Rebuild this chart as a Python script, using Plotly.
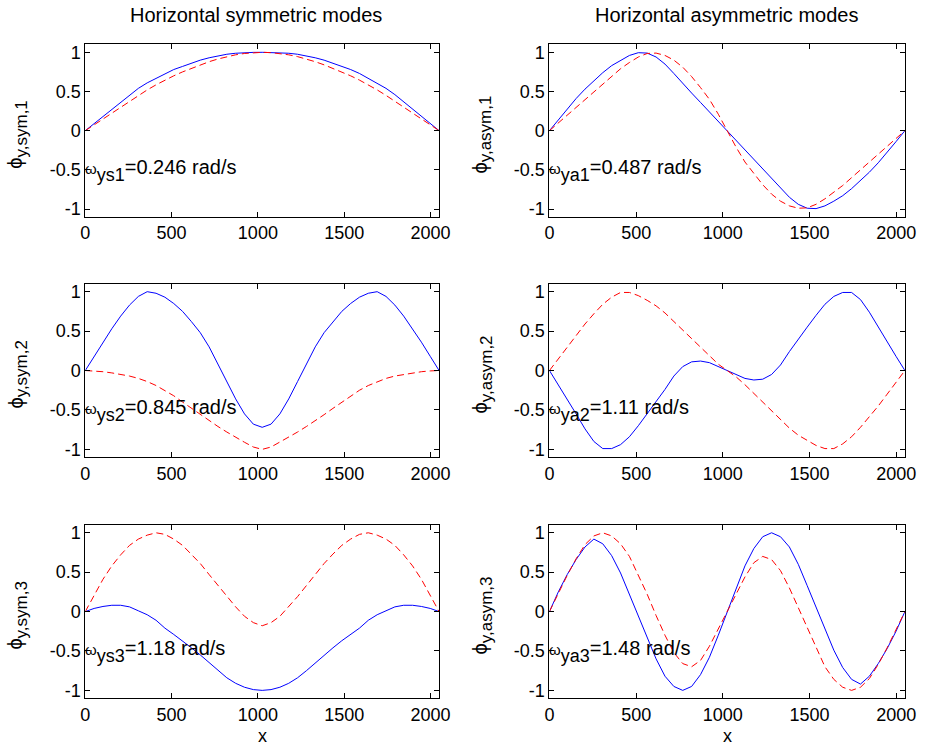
import plotly.graph_objects as go

# ---------------- data ----------------
X = [0, 51.25, 102.5, 153.75, 205, 256.25, 307.5, 358.75, 410, 461.25, 512.5,
     563.75, 615, 666.25, 717.5, 768.75, 820, 871.25, 922.5, 973.75, 1025,
     1076.25, 1127.5, 1178.75, 1230, 1281.25, 1332.5, 1383.75, 1435, 1486.25, 1537.5,
     1588.75, 1640, 1691.25, 1742.5, 1793.75, 1845, 1896.25, 1947.5, 1998.75, 2050]

sym1_blue = [0, 0.09, 0.18, 0.28, 0.37, 0.46, 0.54, 0.61, 0.67, 0.73, 0.78, 0.82, 0.86, 0.90, 0.93, 0.955, 0.975, 0.988, 0.996, 0.999, 1.0,
             0.999, 0.996, 0.988, 0.975, 0.955, 0.93, 0.90, 0.86, 0.82, 0.78, 0.73, 0.67, 0.61, 0.54, 0.46, 0.37, 0.28, 0.18, 0.09, 0]
sym1_red = [0, 0.075, 0.15, 0.225, 0.30, 0.375, 0.45, 0.52, 0.585, 0.645, 0.70, 0.75, 0.795, 0.84, 0.88, 0.915, 0.945, 0.968, 0.985, 0.996, 1.0,
            0.996, 0.985, 0.968, 0.945, 0.915, 0.88, 0.84, 0.795, 0.75, 0.70, 0.645, 0.585, 0.52, 0.45, 0.375, 0.30, 0.225, 0.15, 0.075, 0]

asym1_blue = [0, 0.14, 0.28, 0.41, 0.53, 0.64, 0.74, 0.83, 0.90, 0.96, 0.995, 0.99, 0.94, 0.85, 0.73, 0.60, 0.48, 0.36, 0.24, 0.12, 0,
              -0.12, -0.24, -0.36, -0.48, -0.60, -0.73, -0.85, -0.94, -0.99, -0.995, -0.96, -0.90, -0.83, -0.74, -0.64, -0.53, -0.41, -0.28, -0.14, 0]
asym1_red = [0, 0.10, 0.20, 0.30, 0.40, 0.50, 0.60, 0.70, 0.79, 0.87, 0.94, 0.985, 0.99, 0.96, 0.90, 0.81, 0.69, 0.55, 0.40, 0.21, 0,
             -0.21, -0.40, -0.55, -0.69, -0.81, -0.90, -0.96, -0.99, -0.985, -0.94, -0.87, -0.79, -0.70, -0.60, -0.50, -0.40, -0.30, -0.20, -0.10, 0]

sym2_blue = [0, 0.18, 0.36, 0.53, 0.69, 0.83, 0.94, 1.0, 0.98, 0.93, 0.85, 0.75, 0.62, 0.48, 0.30, 0.08, -0.14, -0.36, -0.55, -0.68, -0.72,
             -0.68, -0.55, -0.36, -0.14, 0.08, 0.30, 0.48, 0.62, 0.75, 0.85, 0.93, 0.98, 1.0, 0.94, 0.83, 0.69, 0.53, 0.36, 0.18, 0]
sym2_red = [0, -0.005, -0.015, -0.03, -0.05, -0.07, -0.10, -0.14, -0.19, -0.25, -0.32, -0.40, -0.48, -0.56, -0.64, -0.71, -0.78, -0.85, -0.91, -0.97, -1.0,
            -0.97, -0.91, -0.85, -0.78, -0.71, -0.64, -0.56, -0.48, -0.40, -0.32, -0.25, -0.19, -0.14, -0.10, -0.07, -0.05, -0.03, -0.015, -0.005, 0]

asym2_blue = [0, -0.18, -0.37, -0.55, -0.74, -0.90, -0.99, -0.99, -0.94, -0.84, -0.70, -0.55, -0.40, -0.24, -0.07, 0.05, 0.11, 0.12, 0.10, 0.05, 0,
              -0.05, -0.10, -0.12, -0.11, -0.05, 0.07, 0.24, 0.40, 0.55, 0.70, 0.84, 0.94, 0.99, 0.99, 0.90, 0.74, 0.55, 0.37, 0.18, 0]
asym2_red = [0, 0.15, 0.30, 0.45, 0.59, 0.72, 0.84, 0.93, 0.99, 0.99, 0.95, 0.89, 0.82, 0.73, 0.62, 0.51, 0.40, 0.29, 0.18, 0.08, 0,
             -0.08, -0.18, -0.29, -0.40, -0.51, -0.62, -0.73, -0.82, -0.89, -0.95, -0.99, -0.99, -0.93, -0.84, -0.72, -0.59, -0.45, -0.30, -0.15, 0]

sym3_blue = [0, 0.04, 0.065, 0.08, 0.08, 0.06, 0.01, -0.04, -0.11, -0.21, -0.29, -0.37, -0.46, -0.55, -0.65, -0.75, -0.84, -0.91, -0.96, -0.99, -1.0,
             -0.99, -0.96, -0.91, -0.84, -0.75, -0.65, -0.55, -0.46, -0.37, -0.29, -0.21, -0.11, -0.04, 0.01, 0.06, 0.08, 0.08, 0.065, 0.04, 0]
sym3_red = [0, 0.21, 0.41, 0.58, 0.72, 0.84, 0.92, 0.97, 1.0, 0.98, 0.92, 0.84, 0.73, 0.61, 0.47, 0.33, 0.19, 0.06, -0.06, -0.14, -0.18,
            -0.14, -0.06, 0.06, 0.19, 0.33, 0.47, 0.61, 0.73, 0.84, 0.92, 0.98, 1.0, 0.97, 0.92, 0.84, 0.72, 0.58, 0.41, 0.21, 0]

asym3_blue = [0, 0.25, 0.47, 0.66, 0.82, 0.92, 0.86, 0.71, 0.49, 0.22, -0.05, -0.33, -0.60, -0.82, -0.95, -1.0, -0.95, -0.80, -0.58, -0.30, 0,
              0.30, 0.58, 0.80, 0.95, 1.0, 0.95, 0.82, 0.60, 0.33, 0.05, -0.22, -0.49, -0.71, -0.86, -0.92, -0.82, -0.66, -0.47, -0.25, 0]
asym3_red = [0, 0.24, 0.46, 0.67, 0.85, 0.96, 1.0, 0.96, 0.86, 0.70, 0.46, 0.22, -0.05, -0.30, -0.52, -0.66, -0.70, -0.62, -0.44, -0.22, 0,
             0.22, 0.44, 0.62, 0.70, 0.66, 0.52, 0.30, 0.05, -0.22, -0.46, -0.70, -0.86, -0.96, -1.0, -0.96, -0.85, -0.67, -0.46, -0.24, 0]

panel_blue = [sym1_blue, asym1_blue, sym2_blue, asym2_blue, sym3_blue, asym3_blue]
panel_red = [sym1_red, asym1_red, sym2_red, asym2_red, sym3_red, asym3_red]
ylabel_main = "ϕ"
ylabel_subs = ["y,sym,1", "y,asym,1", "y,sym,2", "y,asym,2", "y,sym,3", "y,asym,3"]
omega_subs = ["ys1", "ya1", "ys2", "ya2", "ys3", "ya3"]
omega_values = ["0.246", "0.487", "0.845", "1.11", "1.18", "1.48"]
col_titles = ["Horizontal symmetric modes", "Horizontal asymmetric modes"]
x_ticks = [0, 500, 1000, 1500, 2000]
y_ticks = [-1, -0.5, 0, 0.5, 1]
y_ticktext = ["-1", "-0.5", "0", "0.5", "1"]

# ---------------- layout geometry ----------------
W, H = 928, 751
FONT = "Liberation Sans, Arial, Helvetica, sans-serif"
col_px = [(81.7, 441.7), (554.0, 915.7)]
row_px = [(42.7, 216.0), (283.3, 457.7), (525.7, 700.0)]
ylab_left_px = [-3, 470]
omega_left_px = [79, 552]
title_shift_px = [-6, -1]

fig = go.Figure()
annotations = []
layout_axes = {}

for k in range(6):
    r, c = divmod(k, 2)
    idx = k + 1
    xa = "x" if idx == 1 else f"x{idx}"
    ya = "y" if idx == 1 else f"y{idx}"
    xdom = [col_px[c][0] / W, col_px[c][1] / W]
    ydom = [1 - row_px[r][1] / H, 1 - row_px[r][0] / H]

    fig.add_trace(go.Scatter(x=X, y=panel_blue[k], mode="lines", xaxis=xa, yaxis=ya,
                             line=dict(color="#0000FF", width=1), showlegend=False,
                             hoverinfo="skip"))
    fig.add_trace(go.Scatter(x=X, y=panel_red[k], mode="lines", xaxis=xa, yaxis=ya,
                             line=dict(color="#FF0000", width=1, dash="7px,4px"), showlegend=False,
                             hoverinfo="skip"))

    common = dict(ticks="inside", ticklen=5, tickcolor="black", showline=True,
                  linecolor="black", linewidth=1, mirror="ticks", showgrid=False,
                  zeroline=False, tickfont=dict(family=FONT, size=18, color="black"))
    layout_axes["xaxis" if idx == 1 else f"xaxis{idx}"] = dict(
        domain=xdom, range=[0, 2050], tickvals=x_ticks, anchor=ya, **common)
    layout_axes["yaxis" if idx == 1 else f"yaxis{idx}"] = dict(
        domain=ydom, range=[-1.1, 1.1], tickvals=y_ticks, ticktext=y_ticktext,
        anchor=xa, **common)

    ycen_px = (row_px[r][0] + row_px[r][1]) / 2
    # omega text inside axes (main text centred near y=-0.47)
    y_text_px = row_px[r][0] + (1.1 - (-0.47)) / 2.2 * (row_px[r][1] - row_px[r][0])
    omega_txt = ("<span style='font-size:15px'>ω</span><sub><span style='font-size:18px;baseline-shift:-3px'>"
                 + omega_subs[k] + "</span></sub>=" + omega_values[k] + " rad/s")
    annotations.append(dict(x=omega_left_px[c] / W, y=1 - (y_text_px + 3) / H,
                            xref="paper", yref="paper", text=omega_txt,
                            showarrow=False, xanchor="left", yanchor="middle",
                            font=dict(family=FONT, size=20, color="black")))
    # y label
    ylab_txt = (ylabel_main + "<sub><span style='font-size:17px'>" + ylabel_subs[k]
                + "</span></sub>")
    annotations.append(dict(x=ylab_left_px[c] / W, y=1 - (ycen_px + 4) / H,
                            xref="paper", yref="paper", text=ylab_txt,
                            showarrow=False, textangle=-90, xanchor="left", yanchor="middle",
                            font=dict(family=FONT, size=20, color="black")))

for c in range(2):
    xc = (col_px[c][0] + col_px[c][1]) / 2 / W
    annotations.append(dict(x=xc + title_shift_px[c] / W, y=1 - 13 / H, xref="paper", yref="paper",
                            text=col_titles[c], showarrow=False, xanchor="center",
                            yanchor="middle", font=dict(family=FONT, size=20, color="black")))
    annotations.append(dict(x=xc, y=1 - 738 / H, xref="paper", yref="paper", text="x",
                            showarrow=False, xanchor="center", yanchor="middle",
                            font=dict(family=FONT, size=18, color="black")))

fig.update_layout(width=W, height=H, margin=dict(l=0, r=0, t=0, b=0),
                  paper_bgcolor="white", plot_bgcolor="white", hovermode=False,
                  annotations=annotations, **layout_axes)

fig.write_html("out.html", config={"displayModeBar": False, "staticPlot": True},
               post_script="document.body.style.margin='0';document.body.style.padding='0';")
